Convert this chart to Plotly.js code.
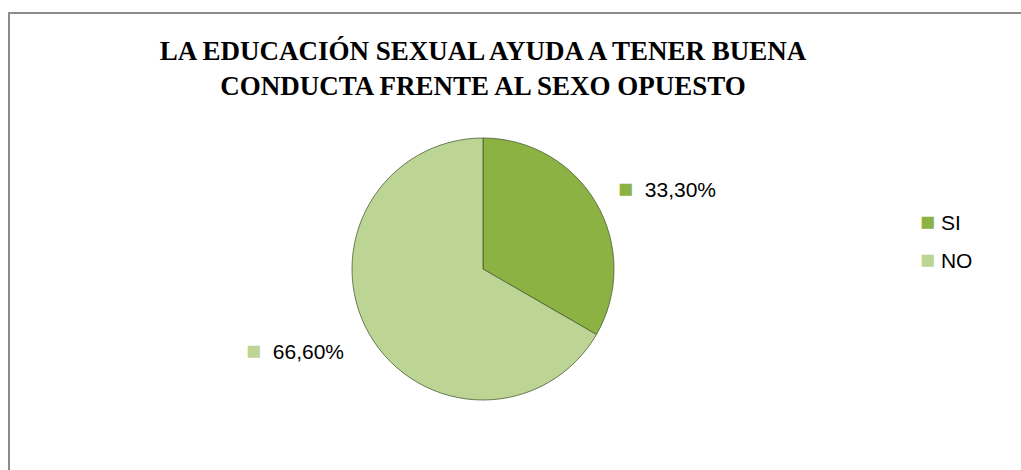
<!DOCTYPE html>
<html>
<head>
<meta charset="utf-8">
<script src="https://cdn.plot.ly/plotly-3.0.1.min.js"></script>
<style>
  html, body { margin: 0; padding: 0; background: #fff; overflow: hidden; }
  #wrap { position: relative; width: 1021px; height: 470px; overflow: hidden; }
  #chart { position: absolute; left: 0; top: 0; width: 1021px; height: 470px; }
  #frame { position: absolute; left: 8px; top: 12px; width: 1040px; height: 500px;
           border: 2px solid #8c8c8c; box-sizing: border-box; pointer-events: none; }
</style>
</head>
<body>
<div id="wrap">
  <div id="chart"></div>
  <div id="frame"></div>
</div>
<script>
// ---- data ----
const categories = ["SI", "NO"];
const values = [33.3, 66.6];
const valueLabels = ["33,30%", "66,60%"];
const sliceColors = ["#8db244", "#bcd595"];
const titleText = "<b>LA EDUCACIÓN SEXUAL AYUDA A TENER BUENA<br>CONDUCTA FRENTE AL SEXO OPUESTO</b>";

// ---- layout geometry ----
const W = 1021, H = 470;
const cx = 483, cy = 269, R = 131;
const domX = [(cx - R) / W, (cx + R) / W];
const domY = [1 - (cy + R) / H, 1 - (cy - R) / H];

function swatch(color) {
  return '<span style="color:' + color + ';font-size:25px">■</span>';
}

const annotations = [];
const total = values.reduce((a, b) => a + b, 0);
let acc = 0;
values.forEach((v, i) => {
  const mid = (acc + v / 2) / total * 2 * Math.PI; // clockwise from 12 o'clock
  acc += v;
  const k = 1.24;
  const px = cx + Math.sin(mid) * R * k;
  const py = cy - Math.cos(mid) * R * k;
  const right = Math.sin(mid) >= 0;
  annotations.push({
    xref: "paper", yref: "paper",
    x: (px + (right ? -8 : 4)) / W, y: 1 - py / H,
    xanchor: right ? "left" : "right", yanchor: "middle",
    showarrow: false,
    text: swatch(sliceColors[i]) + '  ' + valueLabels[i],
    font: { family: "Liberation Sans, Arial, sans-serif", size: 21, color: "#000" }
  });
});
// legend drawn as annotations
categories.forEach((c, i) => {
  annotations.push({
    xref: "paper", yref: "paper",
    x: 918 / W, y: 1 - (221 + i * 38) / H,
    xanchor: "left", yanchor: "middle",
    showarrow: false,
    text: swatch(sliceColors[i]) + ' ' + c,
    font: { family: "Liberation Sans, Arial, sans-serif", size: 21, color: "#000" }
  });
});

const data = [{
  type: "pie",
  labels: categories,
  values: values,
  sort: false,
  direction: "clockwise",
  rotation: 0,
  textposition: "none",
  hoverinfo: "label+percent",
  marker: { colors: sliceColors, line: { color: "rgba(70,85,45,0.75)", width: 1 } },
  domain: { x: domX, y: domY },
  showlegend: false
}];

const layout = {
  width: W, height: H,
  margin: { l: 0, r: 0, t: 0, b: 0 },
  paper_bgcolor: "#ffffff",
  plot_bgcolor: "#ffffff",
  showlegend: false,
  title: {
    text: titleText,
    font: { family: "Liberation Serif, Times New Roman, serif", size: 27, color: "#000" },
    x: cx / W, xanchor: "center",
    y: 1 - 60 / H, yanchor: "top"
  },
  annotations: annotations
};

Plotly.newPlot("chart", data, layout, { displayModeBar: false, staticPlot: true });
</script>
</body>
</html>
